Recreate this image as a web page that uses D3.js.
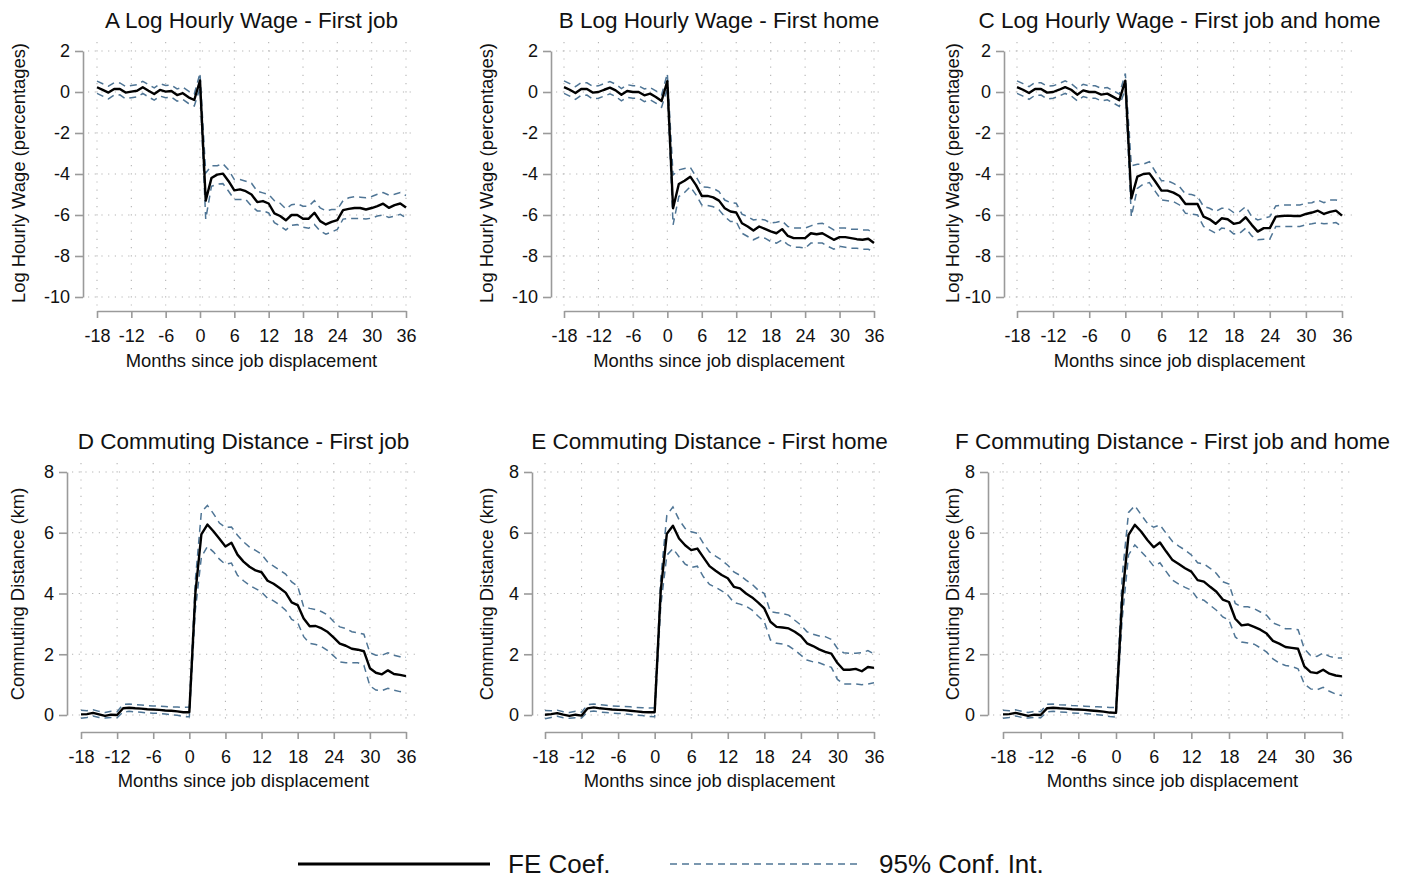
<!DOCTYPE html>
<html>
<head>
<meta charset="utf-8">
<script src="https://cdn.jsdelivr.net/npm/d3@7/dist/d3.min.js"></script>
<style>
  html, body { margin: 0; padding: 0; background: #fff; }
  svg { display: block; font-family: "Liberation Sans", Arial, sans-serif; }
</style>
</head>
<body>
<svg id="chart" width="1402" height="880"></svg>
<script>
// ---------------- DATA ----------------
const months = [-18,-17,-16,-15,-14,-13,-12,-11,-10,-9,-8,-7,-6,-5,-4,-3,-2,-1,0,
  1,2,3,4,5,6,7,8,9,10,11,12,13,14,15,16,17,18,19,20,21,22,23,24,25,26,27,28,29,30,31,32,33,34,35,36];
const xTickValues = [-18,-12,-6,0,6,12,18,24,30,36];
const wageTickValues = [-10,-8,-6,-4,-2,0,2];
const distTickValues = [0,2,4,6,8];

const panelTitles = ["A Log Hourly Wage - First job","B Log Hourly Wage - First home","C Log Hourly Wage - First job and home",
  "D Commuting Distance - First job","E Commuting Distance - First home","F Commuting Distance - First job and home"];
const wageYTitle = "Log Hourly Wage (percentages)";
const distYTitle = "Commuting Distance (km)";
const xTitle = "Months since job displacement";
const legendLabels = ["FE Coef.", "95% Conf. Int."];

// Panel A
const coefA = [0.23,0.10,-0.03,0.15,0.15,-0.03,0.02,0.06,0.23,0.06,-0.10,0.10,0.02,0.05,-0.15,-0.06,-0.26,-0.39,0.56,
  -5.30,-4.20,-4.03,-3.98,-4.35,-4.80,-4.75,-4.84,-5.00,-5.37,-5.32,-5.44,-5.92,-6.05,-6.26,-6.00,-6.00,-6.18,-6.18,-5.89,
  -6.30,-6.46,-6.34,-6.25,-5.76,-5.70,-5.66,-5.66,-5.73,-5.66,-5.57,-5.45,-5.65,-5.52,-5.44,-5.63];
const hiA = [0.53,0.40,0.28,0.45,0.44,0.27,0.32,0.36,0.52,0.36,0.20,0.40,0.32,0.34,0.15,0.24,0.04,-0.10,0.92,
  -3.95,-3.60,-3.60,-3.50,-3.80,-4.27,-4.27,-4.35,-4.45,-4.84,-4.92,-5.00,-5.30,-5.43,-5.70,-5.50,-5.45,-5.57,-5.57,-5.30,
  -5.65,-5.80,-5.73,-5.73,-5.30,-5.16,-5.11,-5.13,-5.16,-5.10,-4.99,-4.90,-5.03,-4.99,-4.90,-5.05];
const loA = [-0.07,-0.20,-0.34,-0.15,-0.14,-0.33,-0.28,-0.24,-0.07,-0.24,-0.40,-0.20,-0.28,-0.25,-0.45,-0.36,-0.56,-0.68,0.20,
  -6.20,-4.60,-4.50,-4.47,-4.84,-5.24,-5.24,-5.24,-5.57,-5.80,-5.80,-5.90,-6.37,-6.54,-6.73,-6.50,-6.47,-6.60,-6.65,-6.46,
  -6.78,-6.94,-6.83,-6.70,-6.20,-6.17,-6.17,-6.17,-6.20,-6.15,-6.05,-6.00,-6.12,-6.05,-5.97,-6.13];

// Panel B
const coefB = [0.24,0.11,-0.05,0.15,0.15,-0.03,0.00,0.11,0.21,0.08,-0.13,0.05,0.00,0.00,-0.16,-0.08,-0.24,-0.44,0.53,
  -5.67,-4.49,-4.33,-4.13,-4.54,-5.07,-5.07,-5.14,-5.30,-5.67,-5.83,-5.88,-6.40,-6.56,-6.76,-6.56,-6.68,-6.80,-6.89,-6.69,
  -7.02,-7.13,-7.13,-7.13,-6.89,-6.94,-6.89,-7.05,-7.21,-7.08,-7.08,-7.13,-7.18,-7.21,-7.16,-7.37];
const hiB = [0.54,0.41,0.26,0.46,0.45,0.28,0.30,0.41,0.51,0.38,0.17,0.36,0.30,0.30,0.15,0.22,0.06,-0.14,0.90,
  -4.05,-3.80,-3.73,-3.68,-4.13,-4.62,-4.65,-4.70,-4.86,-5.27,-5.40,-5.43,-5.96,-6.08,-6.24,-6.21,-6.24,-6.40,-6.35,-6.29,
  -6.56,-6.64,-6.64,-6.64,-6.53,-6.43,-6.40,-6.56,-6.73,-6.64,-6.64,-6.69,-6.69,-6.73,-6.73,-6.89];
const loB = [-0.07,-0.20,-0.36,-0.16,-0.15,-0.34,-0.30,-0.20,-0.09,-0.22,-0.43,-0.26,-0.30,-0.30,-0.47,-0.38,-0.54,-0.74,0.16,
  -6.48,-5.10,-4.90,-4.62,-5.02,-5.51,-5.54,-5.60,-5.75,-6.08,-6.32,-6.32,-6.89,-7.05,-7.21,-7.08,-7.13,-7.29,-7.37,-7.21,
  -7.45,-7.57,-7.57,-7.62,-7.37,-7.37,-7.37,-7.53,-7.67,-7.53,-7.57,-7.62,-7.62,-7.67,-7.67,-7.78];

// Panel C
const coefC = [0.24,0.11,-0.05,0.15,0.15,-0.03,0.00,0.11,0.24,0.11,-0.13,0.08,0.00,0.00,-0.13,-0.08,-0.24,-0.40,0.55,
  -5.19,-4.13,-4.00,-3.97,-4.38,-4.81,-4.81,-4.91,-5.07,-5.46,-5.46,-5.46,-6.08,-6.21,-6.43,-6.16,-6.21,-6.43,-6.37,-6.11,
  -6.48,-6.81,-6.64,-6.64,-6.08,-6.05,-6.03,-6.05,-6.05,-5.95,-5.88,-5.79,-5.95,-5.85,-5.79,-6.03];
const hiC = [0.54,0.41,0.26,0.46,0.45,0.28,0.30,0.41,0.54,0.41,0.17,0.38,0.30,0.30,0.18,0.22,0.06,-0.10,0.90,
  -3.60,-3.52,-3.52,-3.40,-3.89,-4.33,-4.33,-4.46,-4.62,-4.98,-5.00,-5.10,-5.59,-5.67,-5.83,-5.67,-5.67,-5.88,-5.83,-5.59,
  -6.08,-6.24,-6.16,-6.08,-5.56,-5.51,-5.51,-5.51,-5.51,-5.43,-5.40,-5.27,-5.40,-5.27,-5.27,-5.35];
const loC = [-0.07,-0.20,-0.36,-0.16,-0.15,-0.34,-0.30,-0.20,-0.07,-0.19,-0.43,-0.22,-0.30,-0.30,-0.44,-0.38,-0.54,-0.70,0.15,
  -6.08,-4.70,-4.49,-4.42,-4.86,-5.27,-5.30,-5.35,-5.51,-5.92,-5.95,-6.00,-6.56,-6.73,-6.89,-6.64,-6.68,-6.92,-6.89,-6.64,
  -7.02,-7.21,-7.18,-7.18,-6.56,-6.56,-6.56,-6.56,-6.56,-6.48,-6.43,-6.37,-6.43,-6.40,-6.37,-6.56];

// Panel D
const coefD = [0.02,0.03,0.07,0.02,-0.03,0.01,0.00,0.22,0.24,0.22,0.21,0.19,0.18,0.17,0.15,0.14,0.12,0.09,0.09,
  4.00,5.95,6.27,6.05,5.80,5.55,5.67,5.28,5.05,4.88,4.76,4.70,4.42,4.32,4.18,4.03,3.71,3.62,3.18,2.92,
  2.93,2.85,2.73,2.55,2.35,2.28,2.18,2.15,2.10,1.54,1.39,1.34,1.47,1.35,1.32,1.28];
const hiD = [0.16,0.14,0.17,0.12,0.08,0.12,0.11,0.35,0.36,0.34,0.33,0.31,0.30,0.29,0.28,0.27,0.26,0.25,0.26,
  4.44,6.68,6.90,6.63,6.32,6.17,6.19,5.92,5.70,5.53,5.42,5.29,5.04,4.90,4.77,4.64,4.38,4.24,3.56,3.51,
  3.47,3.40,3.29,3.07,2.90,2.85,2.74,2.71,2.66,2.05,1.97,1.97,2.05,1.97,1.92,1.90];
const loD = [-0.11,-0.08,-0.03,-0.08,-0.10,-0.08,-0.09,0.10,0.12,0.10,0.09,0.07,0.06,0.05,0.03,0.01,-0.01,-0.05,-0.06,
  3.45,5.20,5.55,5.37,5.13,4.96,5.00,4.60,4.42,4.27,4.16,4.05,3.84,3.76,3.62,3.45,3.15,3.04,2.58,2.36,
  2.32,2.25,2.12,1.94,1.75,1.72,1.72,1.72,1.64,0.96,0.82,0.80,0.88,0.82,0.77,0.74];

// Panel E
const coefE = [0.01,0.03,0.06,0.01,-0.03,0.01,-0.02,0.22,0.25,0.22,0.20,0.18,0.17,0.16,0.14,0.12,0.10,0.09,0.09,
  4.10,5.97,6.23,5.81,5.59,5.43,5.48,5.19,4.90,4.75,4.61,4.50,4.22,4.17,4.00,3.87,3.70,3.51,3.07,2.90,
  2.88,2.85,2.74,2.60,2.36,2.27,2.16,2.08,2.02,1.71,1.49,1.49,1.52,1.44,1.58,1.55];
const hiE = [0.15,0.14,0.16,0.11,0.08,0.12,0.09,0.34,0.36,0.34,0.32,0.30,0.29,0.28,0.27,0.25,0.24,0.23,0.24,
  4.50,6.58,6.85,6.43,6.14,6.03,5.98,5.65,5.37,5.23,5.10,4.93,4.71,4.60,4.44,4.30,4.11,4.00,3.40,3.37,
  3.34,3.29,3.12,2.96,2.74,2.66,2.60,2.58,2.49,2.19,2.05,2.03,2.03,2.05,2.12,2.01];
const loE = [-0.12,-0.08,-0.04,-0.09,-0.11,-0.09,-0.10,0.10,0.13,0.10,0.08,0.06,0.05,0.04,0.02,0.00,-0.02,-0.05,-0.06,
  3.60,5.26,5.48,5.21,4.97,4.86,4.90,4.55,4.30,4.20,4.09,3.95,3.70,3.65,3.58,3.45,3.25,3.07,2.47,2.36,
  2.34,2.27,2.14,1.97,1.81,1.75,1.72,1.64,1.57,1.17,1.02,1.02,1.02,1.00,1.02,1.06];

// Panel F
const coefF = [0.02,0.03,0.07,0.02,-0.03,0.01,0.00,0.22,0.24,0.22,0.21,0.19,0.18,0.17,0.15,0.13,0.11,0.08,0.07,
  3.89,5.93,6.26,6.04,5.76,5.52,5.68,5.38,5.10,4.97,4.83,4.72,4.44,4.39,4.22,4.06,3.80,3.72,3.17,2.95,
  2.98,2.90,2.81,2.68,2.44,2.35,2.24,2.21,2.18,1.60,1.41,1.38,1.49,1.36,1.30,1.27];
const hiF = [0.16,0.14,0.17,0.12,0.08,0.12,0.11,0.35,0.36,0.34,0.33,0.31,0.30,0.29,0.28,0.27,0.26,0.25,0.25,
  4.60,6.67,6.89,6.59,6.31,6.18,6.26,5.98,5.71,5.56,5.43,5.27,5.01,4.97,4.83,4.66,4.39,4.31,3.67,3.56,
  3.56,3.50,3.39,3.28,3.03,2.95,2.84,2.84,2.81,2.18,1.96,1.93,2.04,1.93,1.88,1.88];
const loF = [-0.11,-0.08,-0.03,-0.08,-0.10,-0.08,-0.09,0.10,0.12,0.10,0.09,0.07,0.06,0.05,0.03,0.01,-0.01,-0.05,-0.07,
  3.20,5.27,5.60,5.38,5.16,4.90,5.01,4.72,4.44,4.31,4.20,4.11,3.83,3.78,3.61,3.45,3.23,3.12,2.57,2.40,
  2.37,2.33,2.21,2.07,1.85,1.71,1.63,1.60,1.52,1.02,0.86,0.83,0.91,0.78,0.69,0.64];

// ---------------- LAYOUT ----------------
const panels = [
  {title: panelTitles[0], ytitle: wageYTitle, coef: coefA, hi: hiA, lo: loA, dom: [-10,2], ticks: wageTickValues,
   axX: 83, x0: 97, x1: 406, yTop: 51, yBot: 297, xAxY: 311, tY: 28, xtY: 367, ytX: 25, ytY: 173},
  {title: panelTitles[1], ytitle: wageYTitle, coef: coefB, hi: hiB, lo: loB, dom: [-10,2], ticks: wageTickValues,
   axX: 551, x0: 564, x1: 874, yTop: 51, yBot: 297, xAxY: 311, tY: 28, xtY: 367, ytX: 493, ytY: 173},
  {title: panelTitles[2], ytitle: wageYTitle, coef: coefC, hi: hiC, lo: loC, dom: [-10,2], ticks: wageTickValues,
   axX: 1004, x0: 1017, x1: 1342, yTop: 51, yBot: 297, xAxY: 311, tY: 28, xtY: 367, ytX: 959, ytY: 173},
  {title: panelTitles[3], ytitle: distYTitle, coef: coefD, hi: hiD, lo: loD, dom: [0,8], ticks: distTickValues,
   axX: 67, x0: 81, x1: 406, yTop: 472, yBot: 715, xAxY: 732, tY: 449, xtY: 787, ytX: 24, ytY: 594},
  {title: panelTitles[4], ytitle: distYTitle, coef: coefE, hi: hiE, lo: loE, dom: [0,8], ticks: distTickValues,
   axX: 532, x0: 545, x1: 874, yTop: 472, yBot: 715, xAxY: 732, tY: 449, xtY: 787, ytX: 493, ytY: 594},
  {title: panelTitles[5], ytitle: distYTitle, coef: coefF, hi: hiF, lo: loF, dom: [0,8], ticks: distTickValues,
   axX: 988, x0: 1003, x1: 1342, yTop: 472, yBot: 715, xAxY: 732, tY: 449, xtY: 787, ytX: 959, ytY: 594}
];

const AXIS_COLOR = "#9a9a9a";
const GRID_COLOR = "#b4b4b4";
const CI_COLOR = "#4f7595";
const FONT = "'Liberation Sans', Arial, sans-serif";
const fmt = d => String(d);  // plain hyphen minus, as in the reference
const svg = d3.select("#chart");

panels.forEach(p => {
  const x = d3.scaleLinear().domain([months[0], months[months.length-1]]).range([p.x0, p.x1]);
  const y = d3.scaleLinear().domain(p.dom).range([p.yBot, p.yTop]);
  const g = svg.append("g");
  const cx = (p.x0 + p.x1) / 2;

  // grid
  const gl = p.axX + 5, gr = p.x1 + 10, gt = p.yTop - 9, gb = p.yBot + 10;
  g.append("g").selectAll("line").data(p.ticks).join("line")
    .attr("x1", gl).attr("x2", gr).attr("y1", d => y(d)).attr("y2", d => y(d))
    .attr("stroke", GRID_COLOR).attr("stroke-width", 1.1).attr("stroke-dasharray", "1.2,5.5");
  g.append("g").selectAll("line").data(xTickValues).join("line")
    .attr("x1", d => x(d)).attr("x2", d => x(d)).attr("y1", gt).attr("y2", gb)
    .attr("stroke", GRID_COLOR).attr("stroke-width", 1.1).attr("stroke-dasharray", "1.2,7");

  // y axis
  const yAx = g.append("g").attr("transform", `translate(${p.axX},0)`)
    .call(d3.axisLeft(y).tickValues(p.ticks).tickFormat(fmt).tickSize(8).tickSizeOuter(0).tickPadding(5));
  yAx.select(".domain").attr("stroke", AXIS_COLOR).attr("stroke-width", 1.6);
  yAx.selectAll(".tick line").attr("stroke", AXIS_COLOR).attr("stroke-width", 1.6);
  yAx.selectAll(".tick text").attr("font-size", 18).attr("fill", "#111").attr("font-family", FONT);

  // x axis
  const xAx = g.append("g").attr("transform", `translate(0,${p.xAxY})`)
    .call(d3.axisBottom(x).tickValues(xTickValues).tickFormat(fmt).tickSize(7).tickSizeOuter(0).tickPadding(11));
  xAx.select(".domain").attr("stroke", AXIS_COLOR).attr("stroke-width", 1.6);
  xAx.selectAll(".tick line").attr("stroke", AXIS_COLOR).attr("stroke-width", 1.6);
  xAx.selectAll(".tick text").attr("font-size", 18).attr("fill", "#111").attr("font-family", FONT);

  // lines
  const line = arr => d3.line().x((d, i) => x(months[i])).y(d => y(d))(arr);
  g.append("path").attr("d", line(p.hi)).attr("fill", "none").attr("stroke", CI_COLOR)
    .attr("stroke-width", 1.5).attr("stroke-dasharray", "7,5");
  g.append("path").attr("d", line(p.lo)).attr("fill", "none").attr("stroke", CI_COLOR)
    .attr("stroke-width", 1.5).attr("stroke-dasharray", "7,5");
  g.append("path").attr("d", line(p.coef)).attr("fill", "none").attr("stroke", "#000")
    .attr("stroke-width", 2.4).attr("stroke-linejoin", "round");

  // titles
  g.append("text").attr("x", cx).attr("y", p.tY).attr("text-anchor", "middle")
    .attr("font-size", 22.5).attr("fill", "#111").text(p.title);
  g.append("text").attr("x", cx).attr("y", p.xtY).attr("text-anchor", "middle")
    .attr("font-size", 18.4).attr("fill", "#111").text(xTitle);
  g.append("text").attr("transform", `translate(${p.ytX},${p.ytY}) rotate(-90)`).attr("text-anchor", "middle")
    .attr("font-size", 18.4).attr("fill", "#111").text(p.ytitle);
});

// legend
const lg = svg.append("g");
lg.append("line").attr("x1", 298).attr("x2", 490).attr("y1", 864).attr("y2", 864)
  .attr("stroke", "#000").attr("stroke-width", 3);
lg.append("text").attr("x", 508).attr("y", 873).attr("font-size", 26).attr("fill", "#111").text(legendLabels[0]);
lg.append("line").attr("x1", 670).attr("x2", 862).attr("y1", 864).attr("y2", 864)
  .attr("stroke", CI_COLOR).attr("stroke-width", 1.5).attr("stroke-dasharray", "7,5");
lg.append("text").attr("x", 879).attr("y", 873).attr("font-size", 26).attr("fill", "#111").text(legendLabels[1]);
</script>
</body>
</html>
